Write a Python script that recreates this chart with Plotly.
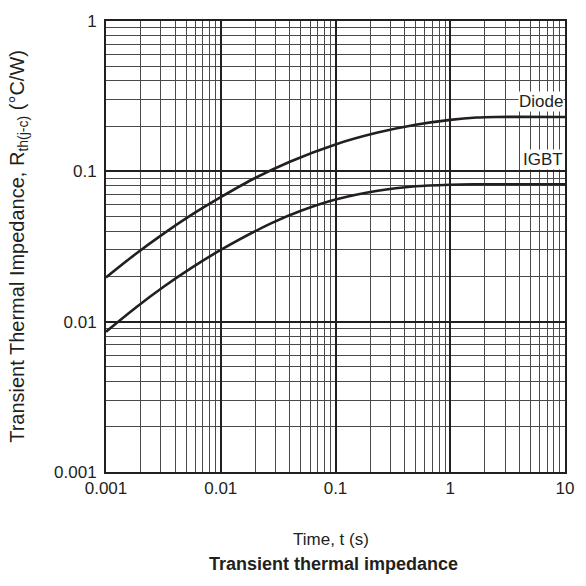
import plotly.graph_objects as go

# Data
diode_t = [0.001, 0.0018, 0.0032, 0.0056, 0.01, 0.0186, 0.04, 0.1, 0.233, 0.5, 1.0, 1.7, 2.5, 10]
diode_z = [0.0197, 0.0281, 0.0387, 0.0515, 0.0673, 0.0879, 0.1159, 0.151, 0.181, 0.204, 0.22, 0.228, 0.23, 0.23]

igbt_t = [0.001, 0.0018, 0.0032, 0.0056, 0.01, 0.0277, 0.05, 0.1, 0.233, 0.5, 1.0, 1.6, 2.5, 10]
igbt_z = [0.00857, 0.01233, 0.01712, 0.02288, 0.0300, 0.0452, 0.0546, 0.0649, 0.0743, 0.0796, 0.0815, 0.082, 0.082, 0.082]

x_tickvals = [0.001, 0.01, 0.1, 1, 10]
x_ticktext = ["0.001", "0.01", "0.1", "1", "10"]
y_tickvals = [0.001, 0.01, 0.1, 1]
y_ticktext = ["0.001", "0.01", "0.1", "1"]

ink = "#231f20"
font = "Liberation Sans, Arial, sans-serif"

fig = go.Figure()
for t, z in [(diode_t, diode_z), (igbt_t, igbt_z)]:
    fig.add_trace(go.Scatter(x=t, y=z, mode="lines",
                             line=dict(color=ink, width=2.6, shape="spline", smoothing=0.8),
                             showlegend=False, hoverinfo="skip"))

axis_common = dict(
    type="log",
    showgrid=True, gridcolor=ink, gridwidth=1.8,
    showline=True, linecolor=ink, linewidth=2, mirror=True,
    ticks="", zeroline=False,
    tickfont=dict(family=font, size=17, color=ink),
    minor=dict(showgrid=True, gridcolor="#4a4a4a", gridwidth=1, dtick="D1", ticks=""),
)

fig.update_xaxes(range=[-3, 1], tickvals=x_tickvals, ticktext=x_ticktext, **axis_common)
fig.update_yaxes(range=[-3, 0], tickvals=y_tickvals, ticktext=y_ticktext, ticklabelstandoff=4, **axis_common)

fig.add_annotation(text="Transient Thermal Impedance, R<sub>th(j-c)</sub> (°C/W)",
                   xref="paper", yref="paper", x=-0.191, y=0.5, textangle=-90,
                   xanchor="center", yanchor="middle", showarrow=False,
                   font=dict(family=font, size=20, color=ink))
fig.add_annotation(text="Time, t (s)", xref="paper", yref="paper", x=0.49, y=-0.149,
                   xanchor="center", yanchor="middle", showarrow=False,
                   font=dict(family=font, size=17, color=ink))
fig.add_annotation(text="<b>Transient thermal impedance</b>", xref="paper", yref="paper",
                   x=0.495, y=-0.204, xanchor="center", yanchor="middle", showarrow=False,
                   font=dict(family=font, size=18, color=ink))
fig.add_annotation(text="Diode", xref="paper", yref="paper", x=0.997, y=0.822,
                   xanchor="right", yanchor="middle", showarrow=False, bgcolor="white",
                   borderpad=0, font=dict(family=font, size=17, color=ink))
fig.add_annotation(text="IGBT", xref="paper", yref="paper", x=0.997, y=0.692,
                   xanchor="right", yanchor="middle", showarrow=False, bgcolor="white",
                   borderpad=0, font=dict(family=font, size=17, color=ink))

fig.update_layout(width=586, height=586, margin=dict(l=106, r=19, t=16, b=114),
                  paper_bgcolor="white", plot_bgcolor="white")

fig.write_html("out.html")
